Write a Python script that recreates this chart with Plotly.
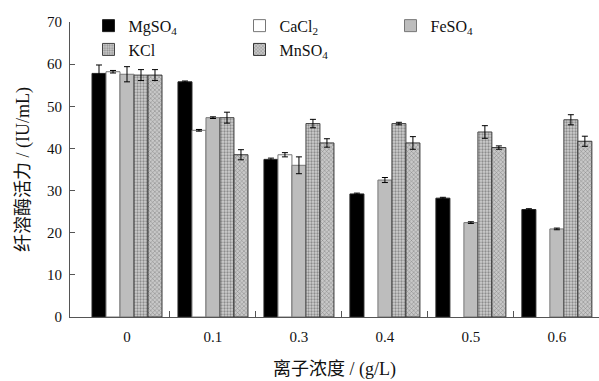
import plotly.graph_objects as go

categories = ["0", "0.1", "0.3", "0.4", "0.5", "0.6"]
series_names = ["MgSO<sub>4</sub>", "CaCl<sub>2</sub>", "FeSO<sub>4</sub>", "KCl", "MnSO<sub>4</sub>"]
mgso4 = [57.8, 55.8, 37.4, 29.2, 28.2, 25.5]
mgso4_err = [2.0, 0.2, 0.3, 0.2, 0.2, 0.2]
cacl2 = [58.2, 44.3, 38.5, None, None, None]
cacl2_err = [0.3, 0.2, 0.5, None, None, None]
feso4 = [57.6, 47.3, 36.0, 32.5, 22.4, 20.9]
feso4_err = [1.8, 0.2, 2.0, 0.6, 0.2, 0.2]
kcl = [57.4, 47.3, 45.9, 45.9, 43.9, 46.8]
kcl_err = [1.3, 1.3, 1.0, 0.3, 1.5, 1.2]
mnso4 = [57.4, 38.5, 41.3, 41.3, 40.2, 41.7]
mnso4_err = [1.3, 1.2, 1.0, 1.5, 0.4, 1.2]

values = [mgso4, cacl2, feso4, kcl, mnso4]
errors = [mgso4_err, cacl2_err, feso4_err, kcl_err, mnso4_err]
fills = ["#000000", "#ffffff", "#bdbdbd", "#c4c4c4", "#b8b8b8"]
lines = ["#222222", "#777777", "#777777", "#444444", "#333333"]
patterns = [None, None, None,
            dict(shape=".", fgcolor="#4a4a4a", bgcolor="#cfcfcf", size=3, solidity=0.45),
            dict(shape="x", fgcolor="#3a3a3a", bgcolor="#c8c8c8", size=3, solidity=0.3)]

xpos = list(range(len(categories)))

fig = go.Figure()
for name, v, e, fc, lc, pat in zip(series_names, values, errors, fills, lines, patterns):
    marker = dict(color=fc, line=dict(color=lc, width=1))
    if pat:
        marker["pattern"] = pat
    fig.add_trace(go.Bar(
        x=xpos, y=v, name=name, marker=marker,
        error_y=dict(type="data", array=e, visible=True, color="#000000", thickness=1, width=3),
    ))

font_fam = "Liberation Serif, Noto Sans CJK SC, serif"
fig.update_layout(
    width=599, height=381,
    margin=dict(l=70, r=0, t=22, b=64),
    paper_bgcolor="white", plot_bgcolor="white",
    barmode="group", bargap=0.186, bargroupgap=0,
    font=dict(family=font_fam, size=15, color="#111111"),
    showlegend=True,
    legend=dict(orientation="h", x=0.035, y=1.045, xanchor="left", yanchor="top",
                entrywidth=106, entrywidthmode="pixels", font=dict(size=16),
                bgcolor="rgba(0,0,0,0)", tracegroupgap=0, itemwidth=30),
    xaxis=dict(range=[-0.663, 5.49], tickmode="array", tickvals=xpos, ticktext=categories,
               ticks="", showline=True, linecolor="#555555", linewidth=1, showgrid=False, zeroline=False,
               minor=dict(tickmode="array", tickvals=[0.5, 1.5, 2.5, 3.5, 4.5, 5.5], ticks="inside",
                          ticklen=6, tickcolor="#555555"),
               title=dict(text="离子浓度 / (g/L)", standoff=18), ticklabelstandoff=6),
    yaxis=dict(range=[0, 70], dtick=10, ticks="inside", ticklen=5, tickcolor="#555555",
               showline=True, linecolor="#555555", linewidth=1, showgrid=False, zeroline=False,
               title=dict(text="纤溶酶活力 / (IU/mL)", standoff=12), ticklabelstandoff=4),
)

fig.write_html("out.html")
